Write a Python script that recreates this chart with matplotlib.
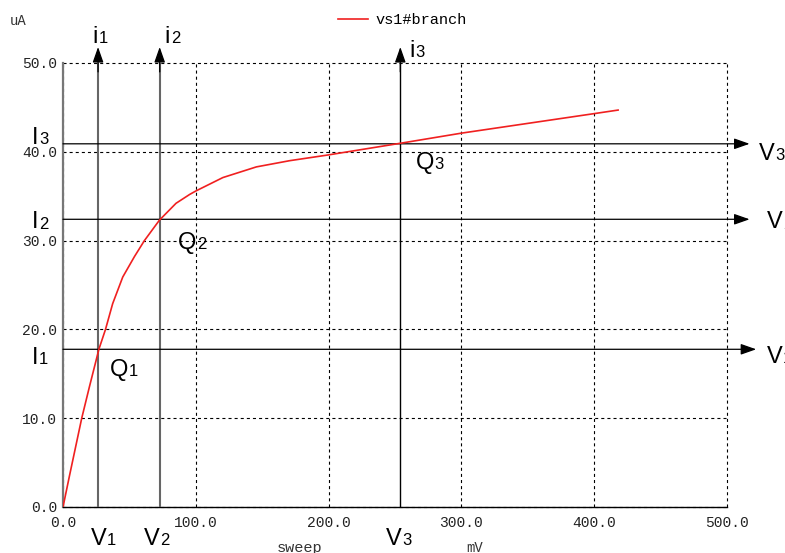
import matplotlib
matplotlib.use("Agg")
import matplotlib.pyplot as plt

plt.rcParams['lines.scale_dashes'] = False

# curve (mV, uA)
sweep_mv = [0, 5, 14.1, 20, 27.1, 32, 37.4, 45, 53.8, 61.3, 72.6, 85.1, 95.4, 100.2,
            120.4, 145.6, 170.7, 199.5, 254, 300, 350, 400, 418]
branch_ua = [0, 3.6, 10, 13.6, 17.8, 20, 22.9, 25.9, 28.2, 30, 32.3, 34.2, 35.2, 35.6,
             37.1, 38.3, 39.0, 39.64, 40.96, 42.1, 43.2, 44.3, 44.7]

x_ticks = [0, 100, 200, 300, 400, 500]
y_ticks = [0, 10, 20, 30, 40, 50]
x_labels = ['0.0', '100.0', '200.0', '300.0', '400.0', '500.0']
y_labels = ['0.0', '10.0', '20.0', '30.0', '40.0', '50.0']

# operating points
v_pts = [26.4, 72.8, 254]
i_pts = [17.76, 32.4, 40.9]

MONO = 'Liberation Mono'
SANS = 'Liberation Sans'

fig = plt.figure(figsize=(7.85, 5.53), dpi=100)
ax = fig.add_axes([63 / 785, 1 - 507 / 553, 664 / 785, 444 / 553])

ax.plot(sweep_mv, branch_ua, color='#f02020', lw=1.2, label='vs1#branch', zorder=4)

ax.set_xlim(0, 500)
ax.set_ylim(0, 50)
ax.set_xticks(x_ticks)
ax.set_xticklabels(x_labels, fontfamily=MONO, fontsize=10.5, color='#222222')
ax.set_yticks(y_ticks)
ax.set_yticklabels(y_labels, fontfamily=MONO, fontsize=10.5, color='#222222')
ax.tick_params(axis='x', length=0, pad=6.5)
ax.tick_params(axis='y', length=0, pad=4.3)
ax.grid(True, color='black', lw=0.8, linestyle=(0, (2.2, 2.2)), clip_on=False)

ax.spines['top'].set_visible(False)
ax.spines['right'].set_visible(False)
ax.spines['left'].set_color('#777777')
ax.spines['left'].set_linewidth(1.6)
ax.spines['bottom'].set_color('black')
ax.spines['bottom'].set_linewidth(1.0)

head = dict(arrowstyle='-|>,head_length=0.94,head_width=0.33', mutation_scale=10,
            color='black', lw=0.9, shrinkA=0, shrinkB=0)

# vertical lines V1..V3 with arrows i1..i3
v_colors = ['#666666', '#666666', 'black']
v_widths = [1.5, 1.5, 1.0]
for x, c, w in zip(v_pts, v_colors, v_widths):
    ax.plot([x, x], [0, 50], color=c, lw=w, zorder=3)
    ax.annotate('', xy=(x, 51.8), xytext=(x, 49), arrowprops=head, annotation_clip=False)

# horizontal lines I1..I3 with arrows v1..v3
h_tips = [522, 517, 517]
for y, tip in zip(i_pts, h_tips):
    ax.annotate('', xy=(tip, y), xytext=(0, y), arrowprops=head, annotation_clip=False)


def label(x, y, main, sub):
    t = ax.text(x, y, main, fontsize=17, family=SANS, va='baseline', ha='left', clip_on=False)
    ax.annotate(sub, xy=(1, 0), xycoords=t, xytext=(0.5, 1.2), textcoords='offset points',
                fontsize=12, family=SANS, va='bottom', ha='left', annotation_clip=False)


label(22.4, 52.25, 'i', '1')
label(76.6, 52.25, 'i', '2')
label(261, 50.7, 'i', '3')
label(-23.6, 16.1, 'I', '1')
label(-23.6, 31.4, 'I', '2')
label(-23.6, 40.9, 'I', '3')
label(35.2, 14.75, 'Q', '1')
label(86.4, 29.1, 'Q', '2')
label(265.6, 38.1, 'Q', '3')
label(20.9, -4.28, 'V', '1')
label(60.8, -4.28, 'V', '2')
label(243, -4.28, 'V', '3')
label(523.9, 39.1, 'V', '3')
label(529.8, 31.4, 'V', '2')
label(529.8, 16.2, 'V', '1')

leg = ax.legend(loc='center', bbox_to_anchor=(402.5 / 785, 1 - 20 / 553),
                bbox_transform=fig.transFigure, frameon=False, handlelength=2.0,
                handletextpad=0.5, borderpad=0, prop={'family': MONO, 'size': 11})

fig.text(10 / 785, 1 - 21 / 553, 'uA', family=MONO, fontsize=10, va='center', ha='left',
         color='#333333')
fig.text(300 / 785, 1 - 541 / 553, 'sweep', family=MONO, fontsize=11, va='top', ha='center',
         color='#333333')
fig.text(475 / 785, 1 - 541 / 553, 'mV', family=MONO, fontsize=10, va='top', ha='center',
         color='#333333')

fig.savefig('out.png', dpi=100)
